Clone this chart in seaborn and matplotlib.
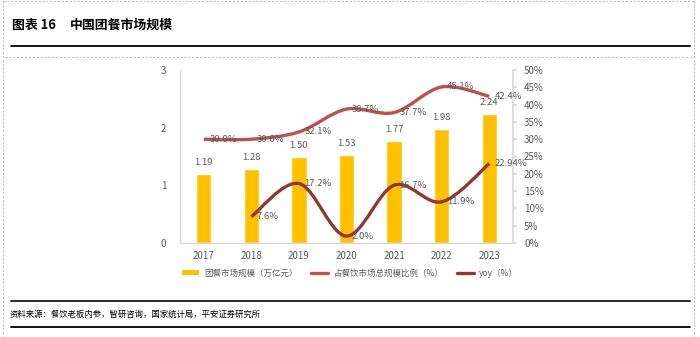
import numpy as np
import pandas as pd
import matplotlib
matplotlib.use("Agg")
import matplotlib.pyplot as plt
import seaborn as sns
from matplotlib.path import Path
from matplotlib.patches import PathPatch, Patch
from matplotlib.lines import Line2D

# ---------------- data ----------------
years = ["2017", "2018", "2019", "2020", "2021", "2022", "2023"]
market = [1.19, 1.28, 1.50, 1.53, 1.77, 1.98, 2.24]          # 团餐市场规模（万亿元）
share = [30.0, 30.0, 32.1, 38.7, 37.7, 45.1, 42.4]            # 占餐饮市场总规模比例（%）
yoy = [None, 7.6, 17.2, 2.0, 16.7, 11.9, 22.94]               # yoy（%）
share_labels = ["30.0%", "30.0%", "32.1%", "38.7%", "37.7%", "45.1%", "42.4%"]
yoy_labels = [None, "7.6%", "17.2%", "2.0%", "16.7%", "11.9%", "22.94%"]
left_ticks = [0, 1, 2, 3]
right_ticks = [0, 5, 10, 15, 20, 25, 30, 35, 40, 45, 50]
legend_labels = ["团餐市场规模（万亿元）", "占餐饮市场总规模比例（%）", "yoy（%）"]
title_a = "图表 16"
title_b = "中国团餐市场规模"
source = "资料来源：餐饮老板内参，智研咨询，国家统计局，平安证券研究所"

sns.set_theme(style="white")
plt.rcParams["font.family"] = ["Noto Sans CJK SC", "DejaVu Sans"]

W, H = 700, 337
fig = plt.figure(figsize=(W / 100, H / 100), dpi=100)

def fx(x):
    return x / W

def fy(y):
    return 1 - y / H

BAR = "#FFC000"
SHARE_C = "#C0504D"
YOY_C = "#943634"
TXT = "#595959"
GRID = "#D9D9D9"
LFS = 6.8

ax = fig.add_axes([fx(180), fy(243), fx(513) - fx(180), fy(70) - fy(243)])
df = pd.DataFrame({"year": years, "market": market})
sns.barplot(data=df, x="year", y="market", color=BAR, saturation=1, width=0.32, ax=ax)
ax.set_xlim(-0.5, len(years) - 0.5)
ax.set_ylim(0, 3)
ax.set_yticks(left_ticks)
ax.set_yticklabels([str(t) for t in left_ticks])
ax.set_xlabel("")
ax.set_ylabel("")
for s in ["top", "right"]:
    ax.spines[s].set_visible(False)
for s in ["left", "bottom"]:
    ax.spines[s].set_color(GRID)
    ax.spines[s].set_linewidth(1)
ax.tick_params(axis="both", labelsize=7, colors=TXT, length=0, pad=6)
ax.tick_params(axis="y", pad=10)
ax.set_xticks(np.arange(-0.5, len(years)), minor=True)
ax.tick_params(axis="x", which="minor", length=3, color=GRID, direction="out")
ax.set_yticks([0, 1, 2, 3], minor=True)
ax.tick_params(axis="y", which="minor", length=3, color=GRID, direction="out")

for i, v in enumerate(market):
    ax.annotate(f"{v:.2f}", (i, v), xytext=(0, 5), textcoords="offset points",
                ha="center", va="bottom", fontsize=LFS, color=TXT)

ax2 = ax.twinx()
ax2.set_ylim(0, 50)
ax2.set_yticks(right_ticks)
ax2.set_yticklabels([f"{t}%" for t in right_ticks])
for s in ["top", "left", "bottom"]:
    ax2.spines[s].set_visible(False)
ax2.spines["right"].set_color(GRID)
ax2.tick_params(axis="y", labelsize=7, colors=TXT, length=3, color=GRID, pad=5)
ax2.grid(False)
ax.grid(False)


def smooth_path(xs, ys):
    pts = np.column_stack([xs, ys]).astype(float)
    n = len(pts)
    verts = [pts[0]]
    codes = [Path.MOVETO]
    for i in range(n - 1):
        p0 = pts[i - 1] if i > 0 else pts[i]
        p1 = pts[i]
        p2 = pts[i + 1]
        p3 = pts[i + 2] if i + 2 < n else pts[i + 1]
        c1 = p1 + (p2 - p0) / 6.0
        c2 = p2 - (p3 - p1) / 6.0
        verts += [c1, c2, p2]
        codes += [Path.CURVE4] * 3
    return Path(verts, codes)


xs = np.arange(len(years))
p_share = smooth_path(xs, share)
ax2.add_patch(PathPatch(p_share, facecolor="none", edgecolor=SHARE_C, lw=2.4, capstyle="butt"))
yx = [i for i, v in enumerate(yoy) if v is not None]
yv = [v for v in yoy if v is not None]
p_yoy = smooth_path(yx, yv)
ax2.add_patch(PathPatch(p_yoy, facecolor="none", edgecolor=YOY_C, lw=2.4, capstyle="butt"))

for i, (v, lab) in enumerate(zip(share, share_labels)):
    ax2.annotate(lab, (i, v), xytext=(4, 0), textcoords="offset points",
                 ha="left", va="center", fontsize=LFS, color=TXT)
for i, (v, lab) in enumerate(zip(yoy, yoy_labels)):
    if v is None:
        continue
    ax2.annotate(lab, (i, v), xytext=(4, 0), textcoords="offset points",
                 ha="left", va="center", fontsize=LFS, color=TXT)

handles = [Patch(facecolor=BAR, edgecolor="none"),
           Line2D([0], [0], color=SHARE_C, lw=2.4),
           Line2D([0], [0], color=YOY_C, lw=2.4)]
fig.legend(handles, legend_labels, loc="center", bbox_to_anchor=(fx(350), fy(273)),
           ncol=3, frameon=False, fontsize=6.1, labelcolor=TXT, handlelength=2.0,
           handleheight=0.6, columnspacing=1.6, handletextpad=0.6)

# ---------------- page decorations ----------------
fig.text(fx(12), fy(25), title_a, fontsize=9.3, fontweight="bold", ha="left", va="center", color="#000000")
fig.text(fx(70), fy(25), title_b, fontsize=9.3, fontweight="bold", ha="left", va="center", color="#000000")
fig.add_artist(Line2D([fx(11), fx(690)], [fy(46), fy(46)], color="#000000", lw=1.3))
dash = dict(color="#BFBFBF", lw=0.8, ls=(0, (2, 1.5)))
fig.add_artist(Line2D([fx(3), fx(3)], [fy(1), fy(336)], **dash))
fig.add_artist(Line2D([fx(694), fx(694)], [fy(1), fy(336)], **dash))
fig.add_artist(Line2D([fx(3), fx(694)], [fy(1), fy(1)], **dash))
fig.add_artist(Line2D([fx(5), fx(694)], [fy(57), fy(57)], **dash))
fig.add_artist(Line2D([fx(11), fx(690)], [fy(301), fy(301)], color="#333333", lw=1.5))
fig.text(fx(10), fy(314), source, fontsize=6.0, ha="left", va="center", color="#000000", style="italic")
fig.add_artist(Line2D([fx(11), fx(690)], [fy(327), fy(327)], color="#000000", lw=1.3))

fig.savefig("out.png", dpi=100)
